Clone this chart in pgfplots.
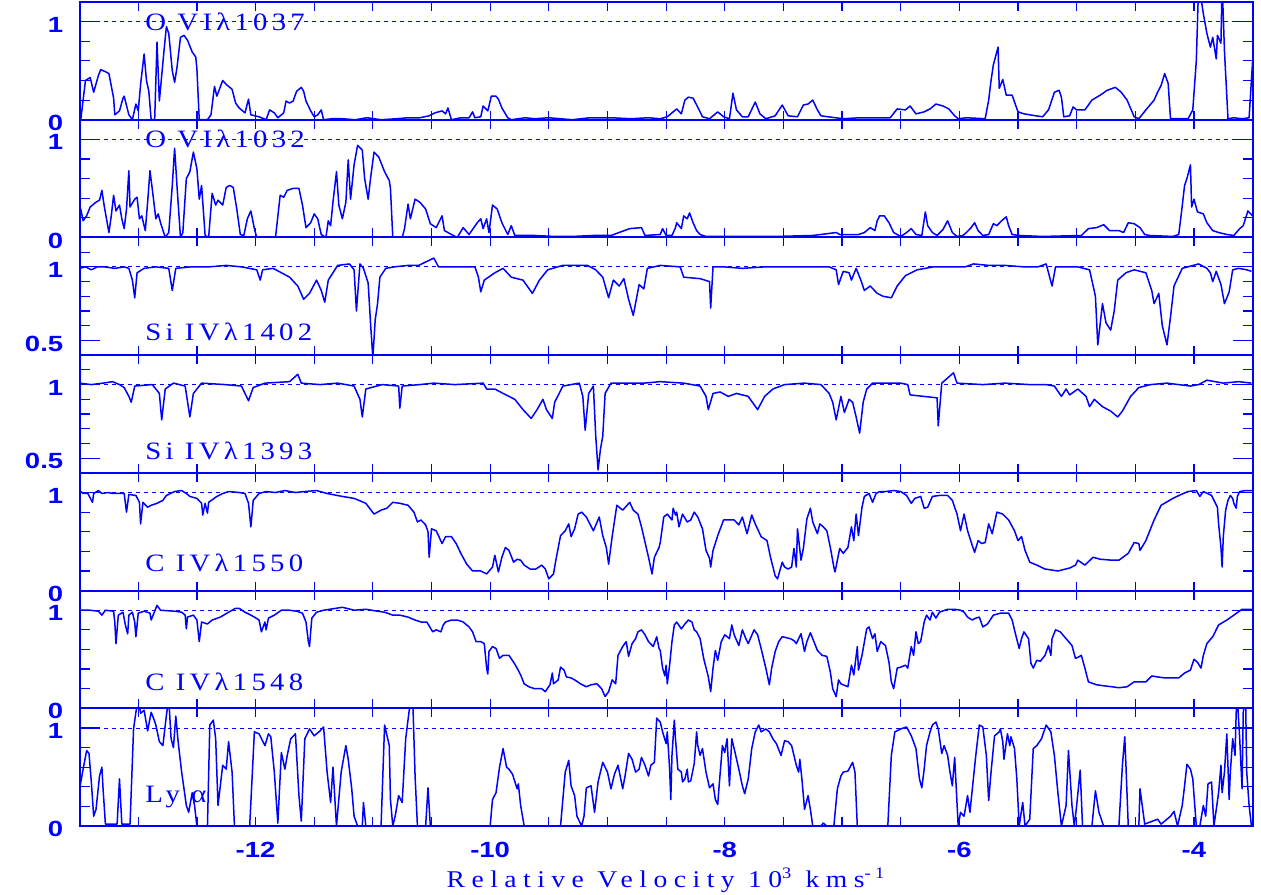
\documentclass[border=0pt]{standalone}
\usepackage{fontspec}
\setmainfont{Liberation Sans}
\newfontfamily\hershey[FakeStretch=1.15,LetterSpace=17]{Liberation Serif}
\newfontfamily\hersheyx[FakeStretch=1.15,LetterSpace=27]{Liberation Serif}
\newfontfamily\tickfont[FakeStretch=1.25]{Liberation Sans}
\usepackage{pgfplots}
\pgfplotsset{compat=1.18}
\definecolor{pblue}{RGB}{0,0,255}
\tikzset{lab/.style={anchor=west, text=pblue, font=\hershey\fontsize{12.5}{14}\selectfont}}
\pgfplotsset{
  panel/.style={
    scale only axis, width=586.5pt, height=58.86pt,
    xmin=-13.5, xmax=-3.5, anchor=north west,
    axis line style={pblue, line width=1pt},
    tick style={pblue, line width=0.6pt},
    xtick={-13,-12.5,-12,-11.5,-11,-10.5,-10,-9.5,-9,-8.5,-8,-7.5,-7,-6.5,-6,-5.5,-5,-4.5,-4},
    xticklabels={},
    xtick style={/pgfplots/major tick length=4.5pt},
    ytick style={/pgfplots/major tick length=10pt,/pgfplots/minor tick length=5pt},
    tick label style={font=\tickfont\bfseries\fontsize{11}{13}\selectfont, text=pblue},
    yticklabel style={inner sep=0.5pt, xshift=-7.5pt, yshift=-1.5pt},
    xticklabel style={yshift=-4.5pt},
  },
  zo/.style={ymin=0, ymax=1.2, ytick={0,1}, yticklabels={0,1}, minor ytick={0.2,0.4,0.6,0.8}},
  si/.style={ymin=0.4, ymax=1.2, ytick={0.5,1}, yticklabels={0.5,1}, minor ytick={0.6,0.7,0.8,0.9,1.1}},
  spec/.style={pblue, line width=0.75pt, line join=round},
  cont/.style={pblue, line width=0.4pt, dash pattern=on 2pt off 2pt},
}
\begin{document}
\begin{tikzpicture}
\path[use as bounding box] (-39.8pt,1pt) rectangle (590.7pt,-446pt);
% Panel 1: O VI 1037
\begin{axis}[panel, zo, at={(0pt,0pt)}]
\addplot[cont] coordinates {(-13.5,1) (-3.5,1)};
\addplot[spec] coordinates {(-13.50,0.00)(-13.49,0.00)(-13.45,0.40)(-13.41,0.43)(-13.38,0.28)(-13.34,0.45)(-13.32,0.51)(-13.28,0.49)(-13.25,0.47)(-13.21,0.22)(-13.20,0.05)(-13.16,0.09)(-13.13,0.22)(-13.12,0.24)(-13.08,0.05)(-13.05,0.00)(-13.02,0.16)(-13.00,0.09)(-12.98,0.36)(-12.95,0.67)(-12.93,0.40)(-12.91,0.29)(-12.89,0.00)(-12.86,0.00)(-12.84,0.79)(-12.82,0.19)(-12.78,0.71)(-12.76,0.95)(-12.74,0.88)(-12.71,0.50)(-12.69,0.38)(-12.67,0.53)(-12.64,0.84)(-12.61,0.86)(-12.58,0.81)(-12.54,0.69)(-12.51,0.64)(-12.50,0.52)(-12.48,0.00)(-12.41,0.00)(-12.38,0.05)(-12.35,0.34)(-12.33,0.24)(-12.28,0.40)(-12.25,0.36)(-12.20,0.31)(-12.17,0.17)(-12.14,0.12)(-12.09,0.07)(-12.06,0.21)(-12.04,0.05)(-11.97,0.03)(-11.91,0.00)(-11.88,0.10)(-11.84,0.07)(-11.81,0.02)(-11.76,0.07)(-11.74,0.19)(-11.71,0.17)(-11.68,0.19)(-11.65,0.29)(-11.61,0.33)(-11.59,0.29)(-11.57,0.19)(-11.53,0.09)(-11.50,0.03)(-11.47,0.05)(-11.44,0.10)(-11.42,0.00)(-11.35,0.01)(-11.26,0.01)(-11.15,0.00)(-11.05,0.02)(-10.93,0.00)(-10.80,0.01)(-10.70,0.02)(-10.60,0.02)(-10.52,0.04)(-10.47,0.07)(-10.41,0.09)(-10.38,0.06)(-10.36,0.12)(-10.33,0.00)(-10.25,0.02)(-10.18,0.02)(-10.15,0.08)(-10.13,0.02)(-10.08,0.03)(-10.06,0.14)(-10.02,0.09)(-9.99,0.24)(-9.95,0.24)(-9.93,0.21)(-9.90,0.12)(-9.85,0.02)(-9.82,0.00)(-9.70,0.02)(-9.62,0.01)(-9.50,0.02)(-9.40,0.01)(-9.30,0.00)(-9.15,0.02)(-8.97,0.02)(-8.80,0.01)(-8.65,0.02)(-8.55,0.01)(-8.49,0.03)(-8.41,0.11)(-8.37,0.06)(-8.34,0.20)(-8.31,0.23)(-8.27,0.22)(-8.24,0.15)(-8.19,0.03)(-8.13,0.01)(-8.06,0.08)(-8.01,0.03)(-7.96,0.01)(-7.93,0.27)(-7.90,0.10)(-7.85,0.03)(-7.80,0.03)(-7.74,0.18)(-7.70,0.06)(-7.65,0.01)(-7.57,0.04)(-7.51,0.15)(-7.46,0.04)(-7.38,0.03)(-7.33,0.15)(-7.29,0.16)(-7.25,0.20)(-7.21,0.10)(-7.18,0.04)(-7.12,0.03)(-6.99,0.01)(-6.85,0.02)(-6.76,0.02)(-6.59,0.02)(-6.53,0.11)(-6.46,0.10)(-6.42,0.14)(-6.37,0.06)(-6.30,0.08)(-6.25,0.11)(-6.20,0.16)(-6.14,0.14)(-6.09,0.11)(-6.04,0.04)(-6.01,0.01)(-5.94,0.02)(-5.78,0.01)(-5.75,0.20)(-5.73,0.40)(-5.71,0.56)(-5.67,0.74)(-5.66,0.32)(-5.63,0.41)(-5.60,0.25)(-5.55,0.25)(-5.50,0.08)(-5.45,0.06)(-5.35,0.04)(-5.29,0.03)(-5.24,0.10)(-5.19,0.28)(-5.15,0.30)(-5.13,0.23)(-5.11,0.03)(-5.06,0.04)(-5.03,0.13)(-5.00,0.10)(-4.93,0.10)(-4.87,0.20)(-4.80,0.25)(-4.74,0.30)(-4.67,0.33)(-4.62,0.28)(-4.57,0.20)(-4.51,0.03)(-4.47,0.01)(-4.41,0.10)(-4.34,0.20)(-4.31,0.28)(-4.28,0.35)(-4.25,0.47)(-4.22,0.37)(-4.20,0.01)(-4.05,0.01)(-4.01,0.10)(-3.98,0.60)(-3.96,1.40)(-3.92,1.08)(-3.89,0.88)(-3.86,0.74)(-3.84,0.84)(-3.81,0.62)(-3.80,0.86)(-3.77,0.78)(-3.76,1.40)(-3.74,0.70)(-3.71,0.01)(-3.66,0.02)(-3.59,0.01)(-3.53,0.02)(-3.50,0.60)};
\node[lab] at (axis cs:-13,1) {O VIλ1037};
\end{axis}
% Panel 2: O VI 1032
\begin{axis}[panel, zo, at={(0pt,-58.86pt)}]
\addplot[cont] coordinates {(-13.5,1) (-3.5,1)};
\addplot[spec] coordinates {(-13.50,0.25)(-13.49,0.29)(-13.47,0.17)(-13.44,0.22)(-13.41,0.31)(-13.36,0.36)(-13.33,0.38)(-13.31,0.48)(-13.29,0.32)(-13.25,0.05)(-13.23,0.22)(-13.21,0.43)(-13.19,0.27)(-13.16,0.33)(-13.14,0.19)(-13.12,0.09)(-13.10,0.29)(-13.08,0.68)(-13.07,0.31)(-13.03,0.39)(-13.01,0.41)(-12.99,0.19)(-12.97,0.22)(-12.94,0.07)(-12.92,0.36)(-12.90,0.68)(-12.88,0.49)(-12.85,0.19)(-12.83,0.24)(-12.81,0.15)(-12.77,0.00)(-12.74,0.05)(-12.71,0.53)(-12.69,0.91)(-12.67,0.53)(-12.64,0.00)(-12.62,0.05)(-12.59,0.60)(-12.56,0.67)(-12.53,0.87)(-12.50,0.70)(-12.48,0.39)(-12.46,0.53)(-12.43,0.02)(-12.40,0.00)(-12.37,0.45)(-12.34,0.33)(-12.32,0.38)(-12.28,0.33)(-12.25,0.51)(-12.22,0.53)(-12.19,0.51)(-12.16,0.29)(-12.13,0.03)(-12.10,0.02)(-12.07,0.19)(-12.04,0.27)(-12.01,0.09)(-11.99,0.00)(-11.83,0.00)(-11.79,0.43)(-11.76,0.41)(-11.73,0.48)(-11.68,0.50)(-11.63,0.50)(-11.60,0.33)(-11.57,0.10)(-11.53,0.15)(-11.50,0.24)(-11.47,0.19)(-11.44,0.03)(-11.40,0.00)(-11.38,0.17)(-11.36,0.12)(-11.34,0.36)(-11.31,0.67)(-11.29,0.33)(-11.26,0.19)(-11.23,0.36)(-11.21,0.79)(-11.19,0.39)(-11.16,0.74)(-11.13,0.94)(-11.09,0.89)(-11.07,0.60)(-11.04,0.39)(-11.02,0.60)(-10.99,0.87)(-10.95,0.82)(-10.90,0.67)(-10.86,0.58)(-10.85,0.50)(-10.83,0.00)(-10.75,0.00)(-10.73,0.09)(-10.70,0.34)(-10.68,0.19)(-10.64,0.39)(-10.60,0.36)(-10.55,0.29)(-10.51,0.14)(-10.46,0.10)(-10.41,0.22)(-10.39,0.07)(-10.33,0.03)(-10.28,0.00)(-10.23,0.10)(-10.18,0.03)(-10.11,0.15)(-10.08,0.19)(-10.06,0.09)(-10.03,0.19)(-10.01,0.05)(-9.98,0.33)(-9.94,0.29)(-9.90,0.15)(-9.85,0.03)(-9.82,0.12)(-9.79,0.02)(-9.62,0.02)(-9.45,0.01)(-9.30,0.01)(-9.12,0.02)(-8.97,0.02)(-8.81,0.09)(-8.71,0.10)(-8.68,0.02)(-8.55,0.03)(-8.53,0.09)(-8.50,0.02)(-8.45,0.02)(-8.42,0.10)(-8.41,0.15)(-8.37,0.09)(-8.35,0.22)(-8.32,0.19)(-8.30,0.25)(-8.27,0.15)(-8.24,0.07)(-8.21,0.03)(-8.16,0.01)(-7.90,0.01)(-7.57,0.01)(-7.25,0.02)(-7.05,0.05)(-7.02,0.03)(-6.86,0.03)(-6.81,0.05)(-6.76,0.10)(-6.72,0.07)(-6.70,0.17)(-6.68,0.22)(-6.64,0.22)(-6.60,0.15)(-6.56,0.05)(-6.50,0.01)(-6.45,0.05)(-6.41,0.09)(-6.37,0.03)(-6.32,0.02)(-6.29,0.26)(-6.27,0.12)(-6.23,0.05)(-6.19,0.02)(-6.14,0.08)(-6.10,0.17)(-6.06,0.05)(-6.02,0.01)(-5.97,0.02)(-5.94,0.05)(-5.90,0.10)(-5.87,0.15)(-5.84,0.07)(-5.80,0.02)(-5.75,0.03)(-5.71,0.14)(-5.68,0.12)(-5.64,0.17)(-5.60,0.21)(-5.58,0.12)(-5.55,0.03)(-5.49,0.02)(-5.29,0.01)(-4.96,0.02)(-4.90,0.09)(-4.83,0.10)(-4.77,0.13)(-4.72,0.07)(-4.64,0.07)(-4.60,0.05)(-4.56,0.15)(-4.51,0.14)(-4.46,0.10)(-4.42,0.03)(-4.38,0.02)(-4.18,0.01)(-4.13,0.03)(-4.11,0.22)(-4.08,0.53)(-4.06,0.60)(-4.03,0.74)(-4.02,0.31)(-4.00,0.39)(-3.97,0.26)(-3.92,0.24)(-3.89,0.15)(-3.84,0.07)(-3.79,0.05)(-3.72,0.03)(-3.66,0.02)(-3.61,0.09)(-3.58,0.12)(-3.54,0.27)(-3.50,0.22)};
\node[lab] at (axis cs:-13,1) {O VIλ1032};
\end{axis}
% Panel 3: Si IV 1402
\begin{axis}[panel, si, at={(0pt,-117.72pt)}]
\addplot[cont] coordinates {(-13.5,1) (-3.5,1)};
\addplot[spec] coordinates {(-13.50,0.99)(-13.45,1.00)(-13.40,0.98)(-13.35,1.00)(-13.29,1.00)(-13.20,0.99)(-13.12,1.00)(-13.08,0.99)(-13.05,0.91)(-13.03,0.79)(-13.01,0.96)(-12.95,0.99)(-12.85,1.00)(-12.74,0.99)(-12.71,0.84)(-12.68,0.99)(-12.55,1.00)(-12.40,1.00)(-12.25,1.01)(-12.12,1.00)(-11.99,0.98)(-11.96,0.91)(-11.94,0.98)(-11.85,0.99)(-11.78,0.96)(-11.71,0.93)(-11.64,0.87)(-11.59,0.78)(-11.54,0.82)(-11.48,0.91)(-11.44,0.84)(-11.41,0.76)(-11.38,0.91)(-11.30,1.01)(-11.20,1.02)(-11.16,0.98)(-11.14,0.70)(-11.11,1.02)(-11.08,0.99)(-11.04,0.89)(-11.02,0.62)(-11.00,0.38)(-10.98,0.64)(-10.96,0.75)(-10.94,0.93)(-10.89,0.99)(-10.82,1.00)(-10.70,1.01)(-10.61,1.01)(-10.48,1.06)(-10.44,1.00)(-10.30,1.00)(-10.13,1.00)(-10.10,0.93)(-10.08,0.83)(-10.05,0.91)(-9.96,0.96)(-9.89,0.99)(-9.82,0.93)(-9.72,0.91)(-9.64,0.82)(-9.58,0.91)(-9.51,0.98)(-9.38,1.01)(-9.17,1.01)(-9.10,0.98)(-9.04,0.93)(-8.99,0.79)(-8.95,0.91)(-8.90,0.87)(-8.86,0.92)(-8.82,0.78)(-8.78,0.67)(-8.73,0.88)(-8.69,0.85)(-8.66,0.99)(-8.55,1.01)(-8.38,1.00)(-8.35,0.93)(-8.21,0.92)(-8.13,0.90)(-8.12,0.72)(-8.10,1.00)(-8.01,1.00)(-7.85,0.99)(-7.66,1.00)(-7.50,1.00)(-7.32,1.00)(-7.11,1.00)(-7.05,0.98)(-7.03,0.88)(-6.99,0.97)(-6.94,0.96)(-6.92,0.91)(-6.88,0.99)(-6.84,0.91)(-6.81,0.84)(-6.76,0.87)(-6.70,0.82)(-6.65,0.80)(-6.58,0.79)(-6.53,0.87)(-6.46,0.94)(-6.36,0.98)(-6.22,1.00)(-6.09,1.00)(-5.95,1.00)(-5.88,1.02)(-5.75,1.01)(-5.61,1.01)(-5.45,1.00)(-5.33,1.00)(-5.26,1.02)(-5.21,0.87)(-5.18,1.00)(-4.99,1.00)(-4.89,0.98)(-4.84,0.80)(-4.82,0.47)(-4.78,0.75)(-4.75,0.62)(-4.71,0.57)(-4.68,0.70)(-4.65,0.91)(-4.58,0.96)(-4.51,0.98)(-4.41,0.96)(-4.36,0.84)(-4.34,0.75)(-4.30,0.82)(-4.27,0.60)(-4.23,0.47)(-4.20,0.66)(-4.17,0.87)(-4.10,0.99)(-3.96,1.02)(-3.89,0.99)(-3.86,0.96)(-3.84,0.90)(-3.81,0.97)(-3.77,0.88)(-3.74,0.75)(-3.70,0.83)(-3.67,0.98)(-3.62,0.99)(-3.55,0.98)(-3.51,0.97)};
\node[lab] at (axis cs:-13,0.56) {Si IVλ1402};
\end{axis}
% Panel 4: Si IV 1393
\begin{axis}[panel, si, at={(0pt,-176.58pt)}]
\addplot[cont] coordinates {(-13.5,1) (-3.5,1)};
\addplot[spec] coordinates {(-13.50,1.01)(-13.40,1.00)(-13.30,1.01)(-13.22,1.02)(-13.16,1.00)(-13.12,0.98)(-13.08,0.92)(-13.06,0.88)(-13.03,0.99)(-12.88,1.00)(-12.82,0.94)(-12.80,0.76)(-12.77,0.97)(-12.70,1.01)(-12.60,0.99)(-12.56,0.78)(-12.53,0.94)(-12.46,1.01)(-12.26,1.00)(-12.12,0.99)(-12.09,0.94)(-12.06,0.89)(-12.02,0.98)(-11.92,1.01)(-11.71,1.02)(-11.64,1.07)(-11.61,1.01)(-11.45,1.00)(-11.30,1.01)(-11.16,0.99)(-11.11,0.90)(-11.09,0.78)(-11.06,0.97)(-10.92,1.00)(-10.78,0.99)(-10.77,0.84)(-10.75,0.99)(-10.60,1.00)(-10.48,1.01)(-10.30,1.00)(-10.06,1.01)(-10.03,0.97)(-9.96,0.97)(-9.89,0.94)(-9.79,0.90)(-9.72,0.83)(-9.65,0.77)(-9.60,0.83)(-9.55,0.90)(-9.52,0.83)(-9.47,0.77)(-9.45,0.88)(-9.38,0.99)(-9.24,1.01)(-9.21,0.92)(-9.19,0.69)(-9.16,0.94)(-9.12,0.99)(-9.10,0.65)(-9.08,0.42)(-9.06,0.56)(-9.04,0.65)(-9.02,0.94)(-8.97,1.01)(-8.69,1.01)(-8.55,1.02)(-8.35,1.01)(-8.21,0.99)(-8.16,0.92)(-8.14,0.83)(-8.10,0.94)(-8.04,0.95)(-7.97,0.92)(-7.90,0.94)(-7.80,0.92)(-7.72,0.83)(-7.66,0.92)(-7.59,0.97)(-7.49,1.00)(-7.32,1.01)(-7.18,1.00)(-7.11,0.94)(-7.08,0.88)(-7.05,0.76)(-7.01,0.92)(-6.98,0.81)(-6.94,0.90)(-6.91,0.88)(-6.88,0.78)(-6.85,0.67)(-6.82,0.88)(-6.79,0.97)(-6.74,1.01)(-6.50,1.01)(-6.44,1.00)(-6.42,0.93)(-6.19,0.91)(-6.18,0.72)(-6.15,1.01)(-6.05,1.08)(-6.02,1.01)(-5.80,1.00)(-5.61,1.01)(-5.40,1.00)(-5.26,1.00)(-5.19,0.99)(-5.13,0.92)(-5.09,0.97)(-5.06,0.93)(-4.99,0.97)(-4.92,0.92)(-4.89,0.85)(-4.85,0.90)(-4.78,0.85)(-4.71,0.82)(-4.65,0.78)(-4.61,0.82)(-4.54,0.92)(-4.47,0.98)(-4.37,1.00)(-4.23,1.01)(-4.03,0.99)(-3.96,1.00)(-3.89,1.03)(-3.75,1.01)(-3.62,1.02)(-3.51,1.01)};
\node[lab] at (axis cs:-13,0.55) {Si IVλ1393};
\end{axis}
% Panel 5: C IV 1550
\begin{axis}[panel, zo, at={(0pt,-235.44pt)}]
\addplot[cont] coordinates {(-13.5,1) (-3.5,1)};
\addplot[spec] coordinates {(-13.50,1.00)(-13.49,1.01)(-13.47,0.99)(-13.43,0.99)(-13.39,0.90)(-13.38,0.99)(-13.34,1.02)(-13.31,0.99)(-13.26,1.00)(-13.21,0.99)(-13.16,0.99)(-13.12,0.99)(-13.10,0.80)(-13.08,0.98)(-13.02,0.97)(-12.99,0.90)(-12.98,0.68)(-12.96,0.90)(-12.92,0.85)(-12.89,0.87)(-12.84,0.89)(-12.79,0.92)(-12.76,0.97)(-12.69,1.01)(-12.63,1.02)(-12.59,0.99)(-12.56,0.96)(-12.50,0.94)(-12.46,0.89)(-12.45,0.77)(-12.43,0.89)(-12.41,0.79)(-12.40,0.90)(-12.33,0.96)(-12.28,0.99)(-12.23,1.01)(-12.14,1.00)(-12.09,0.99)(-12.06,0.89)(-12.04,0.65)(-12.03,0.78)(-12.02,0.92)(-11.97,0.99)(-11.91,1.01)(-11.83,1.00)(-11.75,1.02)(-11.66,1.00)(-11.58,1.01)(-11.48,1.02)(-11.39,0.99)(-11.26,0.96)(-11.16,0.94)(-11.06,0.89)(-10.99,0.78)(-10.93,0.82)(-10.88,0.84)(-10.83,0.90)(-10.77,0.89)(-10.70,0.87)(-10.65,0.80)(-10.62,0.70)(-10.59,0.72)(-10.55,0.67)(-10.53,0.60)(-10.52,0.34)(-10.50,0.63)(-10.46,0.61)(-10.41,0.48)(-10.38,0.55)(-10.33,0.55)(-10.29,0.48)(-10.25,0.38)(-10.20,0.27)(-10.15,0.20)(-10.08,0.20)(-10.03,0.17)(-9.98,0.24)(-9.96,0.36)(-9.93,0.19)(-9.90,0.34)(-9.87,0.44)(-9.84,0.41)(-9.80,0.29)(-9.77,0.32)(-9.74,0.31)(-9.71,0.26)(-9.66,0.22)(-9.61,0.22)(-9.56,0.26)(-9.53,0.22)(-9.50,0.12)(-9.46,0.17)(-9.44,0.31)(-9.40,0.56)(-9.36,0.61)(-9.33,0.68)(-9.31,0.55)(-9.28,0.63)(-9.25,0.78)(-9.22,0.80)(-9.18,0.75)(-9.15,0.68)(-9.12,0.61)(-9.07,0.75)(-9.04,0.56)(-9.01,0.44)(-8.99,0.27)(-8.96,0.55)(-8.92,0.87)(-8.87,0.82)(-8.81,0.90)(-8.78,0.82)(-8.74,0.78)(-8.71,0.65)(-8.65,0.34)(-8.62,0.17)(-8.60,0.34)(-8.56,0.44)(-8.55,0.49)(-8.52,0.75)(-8.49,0.78)(-8.45,0.72)(-8.44,0.84)(-8.42,0.77)(-8.41,0.80)(-8.39,0.65)(-8.36,0.78)(-8.32,0.70)(-8.29,0.72)(-8.26,0.80)(-8.23,0.75)(-8.19,0.63)(-8.16,0.41)(-8.13,0.33)(-8.12,0.24)(-8.10,0.41)(-8.06,0.56)(-8.01,0.72)(-7.96,0.72)(-7.92,0.72)(-7.88,0.67)(-7.85,0.75)(-7.81,0.58)(-7.77,0.77)(-7.74,0.68)(-7.69,0.55)(-7.64,0.51)(-7.61,0.34)(-7.57,0.15)(-7.55,0.12)(-7.51,0.29)(-7.49,0.24)(-7.46,0.22)(-7.43,0.24)(-7.41,0.43)(-7.39,0.24)(-7.38,0.63)(-7.35,0.31)(-7.33,0.43)(-7.30,0.73)(-7.27,0.84)(-7.25,0.70)(-7.21,0.58)(-7.19,0.68)(-7.16,0.65)(-7.13,0.61)(-7.10,0.44)(-7.07,0.24)(-7.06,0.19)(-7.02,0.43)(-6.99,0.38)(-6.95,0.44)(-6.92,0.65)(-6.90,0.51)(-6.88,0.78)(-6.86,0.56)(-6.83,0.85)(-6.81,0.96)(-6.77,0.99)(-6.74,0.90)(-6.71,0.99)(-6.68,1.01)(-6.63,1.01)(-6.56,1.02)(-6.50,1.01)(-6.45,0.97)(-6.41,0.89)(-6.38,0.94)(-6.33,0.96)(-6.30,0.84)(-6.27,0.85)(-6.23,0.96)(-6.17,0.97)(-6.10,0.97)(-6.06,0.92)(-6.02,0.78)(-5.99,0.61)(-5.96,0.78)(-5.93,0.61)(-5.89,0.46)(-5.87,0.39)(-5.84,0.51)(-5.81,0.48)(-5.78,0.49)(-5.75,0.68)(-5.72,0.58)(-5.68,0.80)(-5.63,0.78)(-5.58,0.72)(-5.53,0.61)(-5.50,0.51)(-5.47,0.55)(-5.44,0.41)(-5.40,0.29)(-5.34,0.26)(-5.27,0.22)(-5.16,0.20)(-5.06,0.23)(-5.01,0.26)(-4.99,0.31)(-4.93,0.26)(-4.86,0.34)(-4.80,0.32)(-4.70,0.31)(-4.64,0.31)(-4.56,0.38)(-4.51,0.49)(-4.47,0.48)(-4.46,0.41)(-4.41,0.51)(-4.34,0.72)(-4.28,0.87)(-4.18,0.94)(-4.11,0.98)(-4.05,1.01)(-3.98,1.02)(-3.95,0.96)(-3.92,1.01)(-3.85,0.97)(-3.80,0.85)(-3.79,0.68)(-3.77,0.44)(-3.76,0.24)(-3.75,0.55)(-3.73,0.82)(-3.71,0.92)(-3.69,0.97)(-3.67,0.94)(-3.66,0.89)(-3.64,0.84)(-3.63,0.96)(-3.61,1.01)(-3.56,1.02)(-3.50,1.02)};
\node[lab] at (axis cs:-13,0.28) {C IVλ1550};
\end{axis}
% Panel 6: C IV 1548
\begin{axis}[panel, zo, at={(0pt,-294.30pt)}]
\addplot[cont] coordinates {(-13.5,1) (-3.5,1)};
\addplot[spec] coordinates {(-13.50,1.00)(-13.49,1.00)(-13.41,1.00)(-13.34,0.99)(-13.31,0.95)(-13.28,1.00)(-13.21,0.99)(-13.20,0.88)(-13.19,0.66)(-13.17,0.95)(-13.13,0.98)(-13.11,0.85)(-13.09,0.76)(-13.08,0.95)(-13.05,0.98)(-13.03,0.88)(-13.02,0.73)(-13.00,0.97)(-12.95,0.99)(-12.90,0.97)(-12.89,0.90)(-12.85,1.02)(-12.84,1.05)(-12.81,1.00)(-12.69,0.99)(-12.63,0.98)(-12.60,0.95)(-12.59,0.81)(-12.58,0.93)(-12.53,0.95)(-12.50,0.90)(-12.48,0.68)(-12.46,0.88)(-12.41,0.86)(-12.37,0.90)(-12.30,0.93)(-12.23,0.98)(-12.17,1.02)(-12.14,1.02)(-12.09,0.98)(-12.04,0.95)(-12.01,0.93)(-11.97,0.90)(-11.95,0.78)(-11.92,0.88)(-11.91,0.80)(-11.89,0.92)(-11.84,0.95)(-11.78,1.00)(-11.71,1.00)(-11.65,0.99)(-11.60,0.97)(-11.57,0.88)(-11.55,0.68)(-11.54,0.63)(-11.53,0.78)(-11.52,0.92)(-11.48,0.98)(-11.42,1.00)(-11.26,1.03)(-11.16,1.00)(-11.06,1.01)(-10.96,0.99)(-10.90,0.98)(-10.83,0.95)(-10.77,0.95)(-10.70,0.93)(-10.64,0.90)(-10.59,0.88)(-10.54,0.88)(-10.49,0.78)(-10.46,0.80)(-10.42,0.78)(-10.40,0.85)(-10.38,0.88)(-10.33,0.90)(-10.28,0.90)(-10.23,0.88)(-10.18,0.83)(-10.15,0.78)(-10.12,0.68)(-10.08,0.68)(-10.05,0.66)(-10.03,0.41)(-10.02,0.35)(-10.01,0.58)(-9.98,0.63)(-9.95,0.61)(-9.92,0.51)(-9.89,0.54)(-9.84,0.54)(-9.80,0.47)(-9.77,0.41)(-9.74,0.34)(-9.71,0.25)(-9.67,0.22)(-9.62,0.20)(-9.56,0.20)(-9.53,0.17)(-9.49,0.24)(-9.47,0.36)(-9.46,0.25)(-9.42,0.29)(-9.40,0.42)(-9.37,0.39)(-9.35,0.32)(-9.31,0.31)(-9.28,0.29)(-9.23,0.25)(-9.18,0.22)(-9.14,0.24)(-9.09,0.25)(-9.05,0.20)(-9.02,0.12)(-8.99,0.17)(-8.96,0.29)(-8.93,0.25)(-8.91,0.54)(-8.87,0.63)(-8.84,0.68)(-8.82,0.53)(-8.79,0.66)(-8.76,0.71)(-8.74,0.78)(-8.71,0.80)(-8.68,0.75)(-8.65,0.68)(-8.61,0.63)(-8.58,0.73)(-8.56,0.61)(-8.55,0.59)(-8.53,0.41)(-8.51,0.33)(-8.50,0.44)(-8.49,0.25)(-8.47,0.44)(-8.45,0.68)(-8.43,0.85)(-8.41,0.88)(-8.37,0.81)(-8.34,0.86)(-8.31,0.90)(-8.28,0.88)(-8.26,0.80)(-8.24,0.78)(-8.21,0.71)(-8.18,0.51)(-8.14,0.32)(-8.12,0.17)(-8.10,0.41)(-8.08,0.59)(-8.06,0.49)(-8.03,0.68)(-8.00,0.75)(-7.96,0.71)(-7.94,0.85)(-7.92,0.75)(-7.88,0.64)(-7.85,0.80)(-7.82,0.71)(-7.80,0.66)(-7.75,0.80)(-7.72,0.75)(-7.69,0.61)(-7.65,0.41)(-7.62,0.24)(-7.60,0.41)(-7.57,0.58)(-7.54,0.68)(-7.51,0.73)(-7.44,0.71)(-7.41,0.69)(-7.39,0.66)(-7.35,0.76)(-7.32,0.58)(-7.30,0.68)(-7.27,0.77)(-7.25,0.71)(-7.21,0.59)(-7.17,0.54)(-7.13,0.53)(-7.10,0.37)(-7.08,0.20)(-7.05,0.12)(-7.03,0.29)(-7.01,0.25)(-6.99,0.24)(-6.95,0.22)(-6.92,0.44)(-6.90,0.34)(-6.87,0.63)(-6.86,0.39)(-6.83,0.54)(-6.79,0.81)(-6.77,0.83)(-6.74,0.71)(-6.72,0.76)(-6.70,0.58)(-6.67,0.68)(-6.63,0.64)(-6.60,0.47)(-6.58,0.27)(-6.56,0.20)(-6.53,0.41)(-6.50,0.42)(-6.46,0.44)(-6.44,0.41)(-6.41,0.63)(-6.39,0.54)(-6.37,0.78)(-6.35,0.66)(-6.33,0.68)(-6.30,0.88)(-6.28,0.95)(-6.25,0.90)(-6.23,0.98)(-6.20,0.92)(-6.17,0.98)(-6.10,1.01)(-6.04,1.01)(-5.99,1.00)(-5.96,0.98)(-5.93,0.93)(-5.89,0.90)(-5.86,0.92)(-5.83,0.93)(-5.80,0.83)(-5.76,0.86)(-5.71,0.95)(-5.65,0.97)(-5.58,0.97)(-5.55,0.90)(-5.52,0.75)(-5.49,0.61)(-5.47,0.71)(-5.45,0.78)(-5.41,0.71)(-5.39,0.46)(-5.37,0.41)(-5.34,0.49)(-5.31,0.48)(-5.27,0.54)(-5.24,0.64)(-5.22,0.54)(-5.21,0.71)(-5.18,0.80)(-5.14,0.78)(-5.09,0.71)(-5.04,0.64)(-5.01,0.51)(-4.99,0.52)(-4.96,0.54)(-4.93,0.41)(-4.90,0.27)(-4.83,0.24)(-4.77,0.23)(-4.70,0.22)(-4.64,0.21)(-4.57,0.22)(-4.51,0.27)(-4.46,0.27)(-4.41,0.27)(-4.36,0.33)(-4.31,0.32)(-4.25,0.31)(-4.18,0.31)(-4.13,0.31)(-4.08,0.36)(-4.03,0.39)(-4.00,0.50)(-3.97,0.47)(-3.94,0.41)(-3.92,0.54)(-3.89,0.66)(-3.84,0.73)(-3.79,0.85)(-3.72,0.90)(-3.66,0.95)(-3.59,1.01)(-3.50,1.01)};
\node[lab] at (axis cs:-13,0.27) {C IVλ1548};
\end{axis}
% Panel 7: Ly alpha
\begin{axis}[panel, zo, at={(0pt,-353.16pt)},
  xticklabels={,,-12,,,,-10,,,,-8,,,,-6,,,,-4}]
\addplot[cont] coordinates {(-13.5,1) (-3.5,1)};
\addplot[spec] coordinates {(-13.50,0.38)(-13.47,0.58)(-13.44,0.77)(-13.42,0.74)(-13.40,0.45)(-13.38,0.10)(-13.36,0.17)(-13.33,0.51)(-13.31,0.60)(-13.30,0.38)(-13.28,0.02)(-13.18,0.02)(-13.16,0.48)(-13.14,0.02)(-13.07,0.02)(-13.04,0.99)(-13.02,1.16)(-13.00,1.30)(-12.98,1.15)(-12.95,1.18)(-12.92,0.97)(-12.89,1.16)(-12.87,1.10)(-12.85,1.03)(-12.82,0.86)(-12.79,0.82)(-12.76,1.13)(-12.74,1.30)(-12.72,0.89)(-12.70,0.80)(-12.68,1.12)(-12.66,0.86)(-12.63,0.55)(-12.59,0.21)(-12.57,0.14)(-12.54,0.34)(-12.52,0.21)(-12.50,0.00)(-12.41,0.00)(-12.39,1.03)(-12.36,1.08)(-12.34,0.89)(-12.32,0.21)(-12.28,0.62)(-12.25,0.58)(-12.23,0.86)(-12.20,0.55)(-12.18,0.00)(-12.05,0.00)(-12.01,0.96)(-11.97,0.94)(-11.92,0.82)(-11.89,0.94)(-11.87,0.91)(-11.84,0.55)(-11.81,0.03)(-11.78,0.75)(-11.75,0.58)(-11.73,0.72)(-11.70,0.89)(-11.66,0.94)(-11.63,0.31)(-11.61,0.05)(-11.58,0.89)(-11.54,0.99)(-11.50,0.92)(-11.45,0.97)(-11.42,1.01)(-11.39,0.55)(-11.36,0.24)(-11.34,0.60)(-11.31,0.00)(-11.27,0.55)(-11.26,0.62)(-11.23,0.82)(-11.21,0.68)(-11.18,0.38)(-11.16,0.10)(-11.13,0.00)(-11.09,0.00)(-11.08,0.24)(-11.06,0.00)(-10.93,0.00)(-10.90,1.03)(-10.86,0.82)(-10.85,0.27)(-10.83,0.00)(-10.81,0.10)(-10.78,0.31)(-10.75,0.24)(-10.72,0.89)(-10.69,1.18)(-10.66,1.30)(-10.64,0.51)(-10.62,0.00)(-10.55,0.00)(-10.53,0.39)(-10.51,0.00)(-10.00,0.00)(-9.98,0.27)(-9.95,0.34)(-9.92,0.60)(-9.89,0.79)(-9.86,0.60)(-9.84,0.58)(-9.81,0.53)(-9.77,0.38)(-9.76,0.43)(-9.74,0.21)(-9.71,0.00)(-9.40,0.00)(-9.36,0.55)(-9.33,0.67)(-9.31,0.41)(-9.28,0.31)(-9.26,0.10)(-9.22,0.00)(-9.20,0.10)(-9.18,0.39)(-9.14,0.41)(-9.11,0.14)(-9.08,0.45)(-9.04,0.65)(-9.00,0.55)(-8.97,0.38)(-8.94,0.53)(-8.91,0.62)(-8.87,0.38)(-8.85,0.51)(-8.82,0.74)(-8.79,0.68)(-8.76,0.55)(-8.73,0.58)(-8.71,0.70)(-8.68,0.62)(-8.65,0.51)(-8.63,0.62)(-8.60,0.65)(-8.58,1.10)(-8.55,1.06)(-8.53,0.96)(-8.50,0.84)(-8.49,0.96)(-8.47,0.58)(-8.46,0.27)(-8.45,0.72)(-8.43,1.08)(-8.42,0.89)(-8.40,0.58)(-8.37,0.55)(-8.36,0.45)(-8.34,0.48)(-8.32,0.58)(-8.31,0.45)(-8.29,0.46)(-8.26,0.64)(-8.24,0.96)(-8.23,0.82)(-8.21,0.72)(-8.19,0.79)(-8.16,0.55)(-8.13,0.39)(-8.10,0.43)(-8.08,0.27)(-8.06,0.22)(-8.05,0.38)(-8.02,0.82)(-8.00,0.75)(-7.98,0.89)(-7.96,0.41)(-7.94,0.89)(-7.92,0.79)(-7.88,0.58)(-7.85,0.41)(-7.83,0.33)(-7.80,0.48)(-7.77,0.79)(-7.74,0.96)(-7.71,1.03)(-7.69,0.96)(-7.65,0.99)(-7.62,0.96)(-7.59,0.89)(-7.56,0.84)(-7.52,0.72)(-7.49,0.87)(-7.46,0.86)(-7.43,0.82)(-7.39,0.62)(-7.37,0.55)(-7.36,0.68)(-7.34,0.45)(-7.32,0.17)(-7.29,0.31)(-7.27,0.17)(-7.25,0.00)(-7.18,0.00)(-7.16,0.03)(-7.13,0.00)(-7.07,0.00)(-7.04,0.38)(-7.01,0.51)(-6.99,0.55)(-6.95,0.56)(-6.91,0.65)(-6.89,0.55)(-6.87,0.00)(-6.61,0.00)(-6.58,0.72)(-6.55,0.96)(-6.50,0.99)(-6.45,1.01)(-6.41,0.92)(-6.37,0.79)(-6.34,0.48)(-6.32,0.39)(-6.30,0.58)(-6.28,0.82)(-6.25,0.96)(-6.23,1.03)(-6.20,1.06)(-6.18,0.99)(-6.15,0.74)(-6.13,0.82)(-6.10,0.72)(-6.08,0.55)(-6.06,0.41)(-6.04,0.70)(-6.01,0.00)(-5.99,0.14)(-5.96,0.10)(-5.93,0.31)(-5.91,0.14)(-5.86,0.72)(-5.83,1.03)(-5.80,1.01)(-5.77,0.72)(-5.75,0.26)(-5.73,0.55)(-5.70,0.92)(-5.66,0.96)(-5.65,0.99)(-5.63,0.86)(-5.62,0.68)(-5.59,0.94)(-5.57,0.82)(-5.56,0.91)(-5.53,0.79)(-5.51,0.48)(-5.49,0.00)(-5.46,0.24)(-5.44,0.00)(-5.40,0.07)(-5.37,0.79)(-5.34,0.82)(-5.30,0.89)(-5.26,1.03)(-5.22,0.96)(-5.19,0.72)(-5.16,0.34)(-5.13,0.00)(-5.09,0.21)(-5.07,0.77)(-5.04,0.21)(-5.02,0.00)(-5.00,0.21)(-4.97,0.57)(-4.95,0.00)(-4.87,0.00)(-4.84,0.36)(-4.81,0.14)(-4.77,0.00)(-4.64,0.00)(-4.61,0.62)(-4.59,0.91)(-4.58,0.62)(-4.56,0.00)(-4.47,0.00)(-4.46,0.38)(-4.42,0.02)(-4.31,0.07)(-4.28,0.02)(-4.20,0.10)(-4.17,0.15)(-4.14,0.00)(-4.10,0.21)(-4.08,0.41)(-4.06,0.63)(-4.03,0.58)(-4.01,0.48)(-3.98,0.00)(-3.95,0.00)(-3.92,0.21)(-3.90,0.10)(-3.88,0.43)(-3.85,0.45)(-3.83,0.00)(-3.79,0.34)(-3.77,0.62)(-3.76,0.34)(-3.74,0.55)(-3.72,0.94)(-3.70,0.27)(-3.69,0.55)(-3.67,0.89)(-3.65,0.72)(-3.64,1.16)(-3.63,1.30)(-3.61,0.89)(-3.59,0.38)(-3.58,1.16)(-3.56,1.30)(-3.55,0.55)(-3.53,0.21)(-3.51,0.00)};
\node[lab] at (axis cs:-13,0.30) {Ly α};
\end{axis}
\node[text=pblue, font=\hersheyx\fontsize{12}{14}\selectfont] at (293.2pt,-439pt) {Relative Velocity 10\textsuperscript{3} kms\textsuperscript{-1}};
\end{tikzpicture}
\end{document}
